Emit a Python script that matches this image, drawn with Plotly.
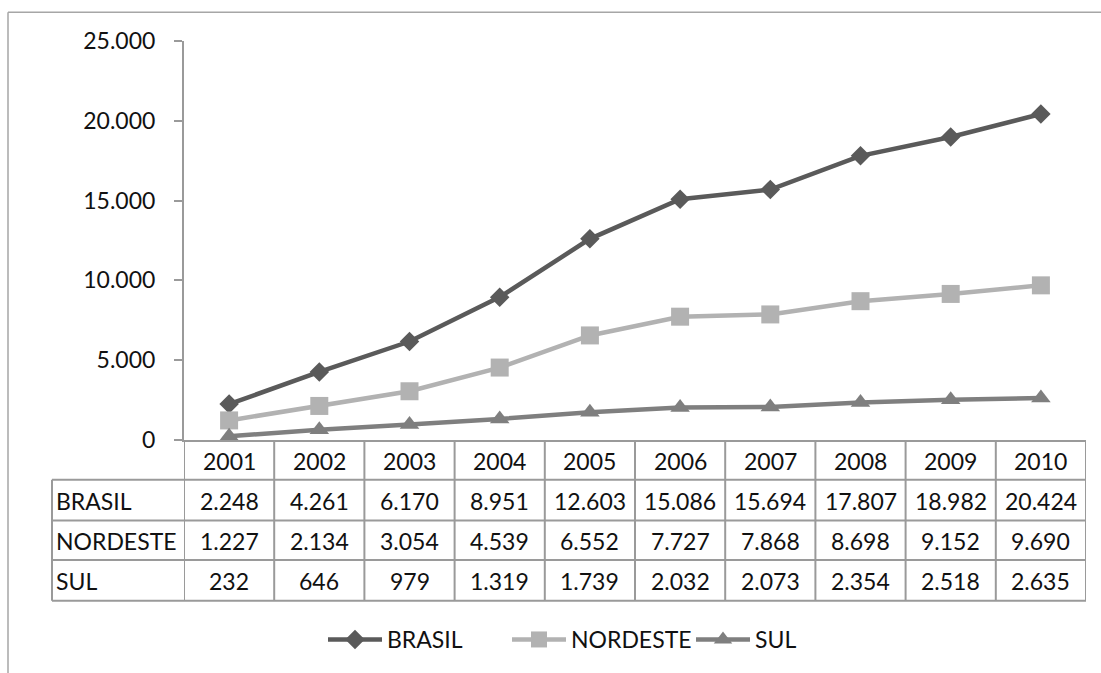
import plotly.graph_objects as go

# ---------------- data ----------------
years = ["2001", "2002", "2003", "2004", "2005", "2006", "2007", "2008", "2009", "2010"]
series_names = ["BRASIL", "NORDESTE", "SUL"]
brasil = [2248, 4261, 6170, 8951, 12603, 15086, 15694, 17807, 18982, 20424]
nordeste = [1227, 2134, 3054, 4539, 6552, 7727, 7868, 8698, 9152, 9690]
sul = [232, 646, 979, 1319, 1739, 2032, 2073, 2354, 2518, 2635]
y_ticks = [0, 5000, 10000, 15000, 20000, 25000]

# ---------------- layout constants (pixels) ----------------
W, H = 1101, 673
PL, PR = 184, 1086          # plot area left/right
PT, PB = 41, 443            # plot area top/bottom
ROWS = [443, 483, 524, 564, 605]  # table row boundaries
TABLE_LEFT = 52
FONT = "Lato"
FS = 23
GRID = "#9a9a9a"

def py(p):  # pixel y -> paper y
    return (PB - p) / (PB - PT)

def px(p):  # pixel x -> paper x
    return (p - PL) / (PR - PL)

def fmt(v):
    return f"{v:,}".replace(",", ".")

colors = ["#5a5a5a", "#b2b2b2", "#7f7f7f"]
symbols = ["diamond", "square", "triangle-up"]
sizes = [15, 18, 17]
values = [brasil, nordeste, sul]
xs = list(range(len(years)))

fig = go.Figure()
for name, vals, c, s, sz in zip(series_names, values, colors, symbols, sizes):
    fig.add_trace(go.Scatter(
        x=xs, y=vals, name=name, mode="lines+markers",
        line=dict(color=c, width=4.5),
        marker=dict(symbol=s, size=sz, color=c, line=dict(width=0)),
    ))

shapes = []
# outer chart border (left + top)
shapes.append(dict(type="line", xref="paper", yref="paper",
                   x0=px(8), x1=px(8), y0=py(12), y1=py(H + 5),
                   line=dict(color="#a6a6a6", width=1.5), layer="above"))
shapes.append(dict(type="line", xref="paper", yref="paper",
                   x0=px(8), x1=px(W + 5), y0=py(12), y1=py(12),
                   line=dict(color="#a6a6a6", width=1.5), layer="above"))
# table horizontal lines
for r in ROWS[1:]:
    shapes.append(dict(type="line", xref="paper", yref="paper",
                       x0=px(TABLE_LEFT), x1=1, y0=py(r), y1=py(r),
                       line=dict(color=GRID, width=2)))
# table vertical lines
for k in range(len(years) + 1):
    shapes.append(dict(type="line", xref="x", yref="paper",
                       x0=k - 0.5, x1=k - 0.5, y0=py(ROWS[0]), y1=py(ROWS[-1]),
                       line=dict(color=GRID, width=2)))
shapes.append(dict(type="line", xref="paper", yref="paper",
                   x0=px(TABLE_LEFT), x1=px(TABLE_LEFT), y0=py(ROWS[1]), y1=py(ROWS[-1]),
                   line=dict(color=GRID, width=2)))

annotations = []
tf = dict(family=FONT, size=FS, color="#111111")
# header row (years)
for i, yr in enumerate(years):
    annotations.append(dict(x=i, y=py((ROWS[0] + ROWS[1]) / 2 + 1), xref="x", yref="paper",
                            text=yr, showarrow=False, font=tf,
                            xanchor="center", yanchor="middle"))
# data rows
for r, (name, vals) in enumerate(zip(series_names, values)):
    yc = py((ROWS[r + 1] + ROWS[r + 2]) / 2 + 1)
    annotations.append(dict(x=px(TABLE_LEFT + 2), y=yc, xref="paper", yref="paper",
                            text=name, showarrow=False, font=tf,
                            xanchor="left", yanchor="middle"))
    for i, v in enumerate(vals):
        annotations.append(dict(x=i, y=yc, xref="x", yref="paper",
                                text=fmt(v), showarrow=False, font=tf,
                                xanchor="center", yanchor="middle"))

fig.update_layout(
    width=W, height=H,
    margin=dict(l=PL, r=W - PR, t=PT, b=H - PB, pad=0),
    paper_bgcolor="white", plot_bgcolor="white",
    separators=",.",
    font=dict(family=FONT, size=FS, color="#111111"),
    shapes=shapes, annotations=annotations,
    showlegend=True,
    legend=dict(orientation="h", x=px(323), y=py(644), xanchor="left", yanchor="middle",
                font=dict(family=FONT, size=FS, color="#111111"),
                itemwidth=54, entrywidth=115, bgcolor="rgba(0,0,0,0)"),
    xaxis=dict(range=[-0.5, len(years) - 0.5], showticklabels=False, ticks="",
               showgrid=False, zeroline=False, showline=True, linecolor=GRID, linewidth=2,
               fixedrange=True),
    yaxis=dict(range=[0, 25000], tickvals=y_ticks, tickformat=",d",
               ticks="outside", ticklen=8, tickcolor=GRID, tickwidth=2,
               ticklabelstandoff=14,
               showgrid=False, zeroline=False, showline=True, linecolor=GRID, linewidth=2,
               tickfont=dict(family=FONT, size=FS, color="#111111")),
)

fig.write_html("out.html")
